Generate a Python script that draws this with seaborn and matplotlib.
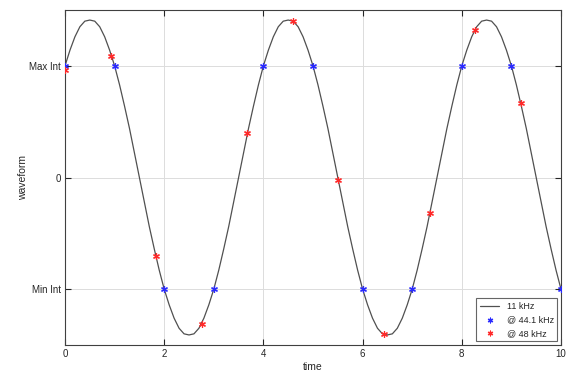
import numpy as np
import pandas as pd
import matplotlib
matplotlib.use("Agg")
import matplotlib.pyplot as plt
import seaborn as sns

# continuous 11 kHz waveform (time step 0.1)
curve_t = [round(i * 0.1, 1) for i in range(101)]
curve_y = [
    1.00, 1.14, 1.26, 1.35, 1.40, 1.41, 1.40, 1.35, 1.26, 1.14,
    1.00, 0.83, 0.64, 0.44, 0.22, 0.00, -0.22, -0.44, -0.64, -0.83,
    -1.00, -1.14, -1.26, -1.35, -1.40, -1.41, -1.40, -1.35, -1.26, -1.14,
    -1.00, -0.83, -0.64, -0.44, -0.22, 0.00, 0.22, 0.44, 0.64, 0.83,
    1.00, 1.14, 1.26, 1.35, 1.40, 1.41, 1.40, 1.35, 1.26, 1.14,
    1.00, 0.83, 0.64, 0.44, 0.22, 0.00, -0.22, -0.44, -0.64, -0.83,
    -1.00, -1.14, -1.26, -1.35, -1.40, -1.41, -1.40, -1.35, -1.26, -1.14,
    -1.00, -0.83, -0.64, -0.44, -0.22, 0.00, 0.22, 0.44, 0.64, 0.83,
    1.00, 1.14, 1.26, 1.35, 1.40, 1.41, 1.40, 1.35, 1.26, 1.14,
    1.00, 0.83, 0.64, 0.44, 0.22, 0.00, -0.22, -0.44, -0.64, -0.83,
    -1.00,
]

# samples at 44.1 kHz
s441_t = [0, 1, 2, 3, 4, 5, 6, 7, 8, 9, 10]
s441_y = [1, 1, -1, -1, 1, 1, -1, -1, 1, 1, -1]

# samples at 48 kHz
s48_t = [0.0, 0.919, 1.838, 2.756, 3.675, 4.594, 5.513, 6.431, 7.35, 8.269, 9.188]
s48_y = [0.965, 1.09, -0.70, -1.31, 0.40, 1.40, -0.02, -1.40, -0.32, 1.32, 0.67]

xticks = [0, 2, 4, 6, 8, 10]
yticks = [-1, 0, 1]
ytick_labels = ["Min Int", "0", "Max Int"]

sns.set_theme(style="white")
plt.rcParams["font.family"] = ["Liberation Sans", "DejaVu Sans"]

fig = plt.figure(figsize=(5.73, 3.79), dpi=100)
ax = fig.add_axes([65 / 573, 1 - 345 / 379, (561 - 65) / 573, (345 - 10) / 379])

df_curve = pd.DataFrame({"time": curve_t, "waveform": curve_y})
df441 = pd.DataFrame({"time": s441_t, "waveform": s441_y})
df48 = pd.DataFrame({"time": s48_t, "waveform": s48_y})

sns.lineplot(data=df_curve, x="time", y="waveform", ax=ax, color="#505050",
             linewidth=0.9, label="11 kHz")
ast = (6, 2, 0)
sns.scatterplot(data=df441, x="time", y="waveform", ax=ax, color="#2a2aff",
                marker=ast, s=18, linewidth=0.9, label="@ 44.1 kHz", zorder=3)
sns.scatterplot(data=df48, x="time", y="waveform", ax=ax, color="#ff2a2a",
                marker=ast, s=18, linewidth=0.9, label="@ 48 kHz", zorder=3)

ax.set_xlim(0, 10)
ax.set_ylim(-1.5, 1.5)
ax.set_xticks(xticks)
ax.set_xticklabels([str(v) for v in xticks])
ax.set_yticks(yticks)
ax.set_yticklabels(ytick_labels)
ax.grid(True, color="#dcdcdc", linewidth=0.7)
ax.set_axisbelow(True)
for sp in ax.spines.values():
    sp.set_color("#404040")
    sp.set_linewidth(0.8)
ax.tick_params(direction="in", length=4, width=0.8, colors="#262626",
               labelsize=7, top=True, right=True, bottom=True, left=True, pad=3)
ax.set_xlabel("time", fontsize=7.5, color="#262626", labelpad=2)
ax.set_ylabel("waveform", fontsize=7.5, color="#262626", labelpad=1)

leg = ax.legend(loc="lower right", fontsize=6.5, frameon=True, fancybox=False,
                edgecolor="#404040", borderpad=0.4, handlelength=2.2,
                labelspacing=0.5, borderaxespad=0.4, markerscale=0.8)
leg.get_frame().set_linewidth(0.8)

fig.savefig("out.png", dpi=100)
